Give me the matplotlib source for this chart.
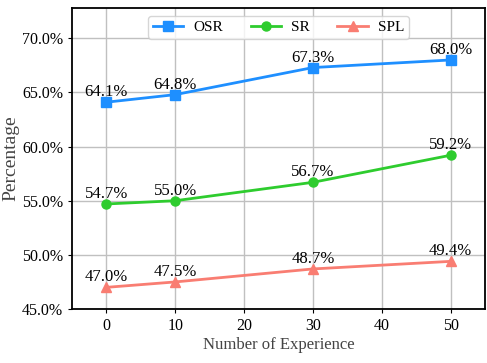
import matplotlib
matplotlib.use("Agg")
import matplotlib.pyplot as plt
from matplotlib.ticker import FuncFormatter

plt.rcParams['font.family'] = ['Liberation Serif', 'DejaVu Serif']

experience = [0, 10, 30, 50]
osr = [64.1, 64.8, 67.3, 68.0]
sr = [54.7, 55.0, 56.7, 59.2]
spl = [47.0, 47.5, 48.7, 49.4]

fig = plt.figure(figsize=(4.87, 3.63), dpi=100)
ax = fig.add_axes([72/487, 1-309/363, (485-72)/487, (309-8)/363])

series = [("OSR", osr, "#1E8FFF", "s"), ("SR", sr, "#2ECC2E", "o"), ("SPL", spl, "#F97D72", "^")]
for name, vals, col, mk in series:
    ax.plot(experience, vals, color=col, marker=mk, markersize=6.5, linewidth=2, label=name, zorder=3)
    for x, v in zip(experience, vals):
        ax.text(x, v + 0.55, f"{v:.1f}%", ha='center', va='baseline', fontsize=12, color='black', zorder=4)

ax.set_xlim(-5, 55)
ax.set_ylim(45, 72.8)
ax.set_xticks([0, 10, 20, 30, 40, 50])
ax.set_yticks([45, 50, 55, 60, 65, 70])
ax.yaxis.set_major_formatter(FuncFormatter(lambda v, p: f"{v:.1f}%"))
ax.tick_params(labelsize=11.5, colors='black', length=3)
ax.grid(True, color='#c0c0c0', linewidth=1)
ax.set_axisbelow(True)
for s in ax.spines.values():
    s.set_linewidth(1.3)
    s.set_color('black')
ax.set_xlabel("Number of Experience", fontsize=12, color='#444444', labelpad=2)
ax.set_ylabel("Percentage", fontsize=14, color='#444444', labelpad=2)
ax.legend(loc='upper center', ncol=3, fontsize=11, frameon=True,
          handlelength=2.0, handletextpad=0.65, columnspacing=1.8, borderpad=0.3)

fig.savefig("out.png", dpi=100)
